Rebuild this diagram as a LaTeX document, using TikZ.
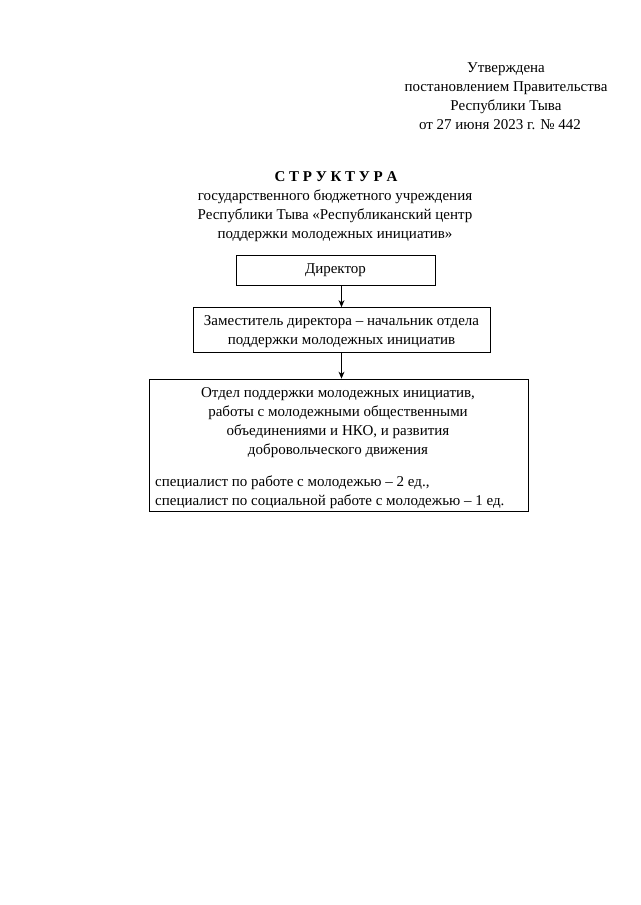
\documentclass[tikz,border=0pt]{standalone}
\usepackage{fontspec}
\setmainfont{Liberation Serif}
\usetikzlibrary{positioning, arrows.meta}

\begin{document}
\begin{tikzpicture}[x=1pt, y=-1pt,
    every node/.style={font=\fontsize{15}{19}\selectfont, inner sep=0pt},
    orgbox/.style={draw, line width=0.8pt},
    link/.style={line width=0.9pt, -{Stealth[length=7pt, width=6pt]}}]
  \useasboundingbox (0,0) rectangle (640,905);
  % approval block
  \node[align=center, anchor=north] (appr) at (506,62) {Утверждена\\постановлением Правительства\\Республики Тыва};
  \node[anchor=north] (date) at (500,119) {от 27 июня 2023 г. № 442};
  % title
  \node[font=\fontsize{15}{19}\selectfont\bfseries] (title) at (336,177) {С Т Р У К Т У Р А};
  \node[align=center, anchor=north] (subt) at (335,190) {государственного бюджетного учреждения\\Республики Тыва «Республиканский центр\\поддержки молодежных инициатив»};
  % boxes
  \node[orgbox, minimum width=199pt, minimum height=30pt] (dir) at (335.5,270) {\raisebox{-1.5pt}{Директор}};
  \node[orgbox, minimum width=297pt, minimum height=45pt] (dep) at (341.5,330) {};
  \node[align=center] (depname) at (341.5,332) {Заместитель директора – начальник отдела\\поддержки молодежных инициатив};
  \node[orgbox, minimum width=379pt, minimum height=132pt] (otd) at (338.5,445) {};
  \node[align=center, anchor=north] (otdname) at (338,387) {Отдел поддержки молодежных инициатив,\\работы с молодежными общественными\\объединениями и НКО, и развития\\добровольческого движения};
  \node[align=left, anchor=south west] (staff) at (155,509) {специалист по работе с молодежью – 2 ед.,\\специалист по социальной работе с молодежью – 1 ед.};
  \draw[link] (dir.south -| dep.north) -- (dep.north);
  \draw[link] (dep.south) -- (dep.south |- otd.north);
\end{tikzpicture}
\end{document}
